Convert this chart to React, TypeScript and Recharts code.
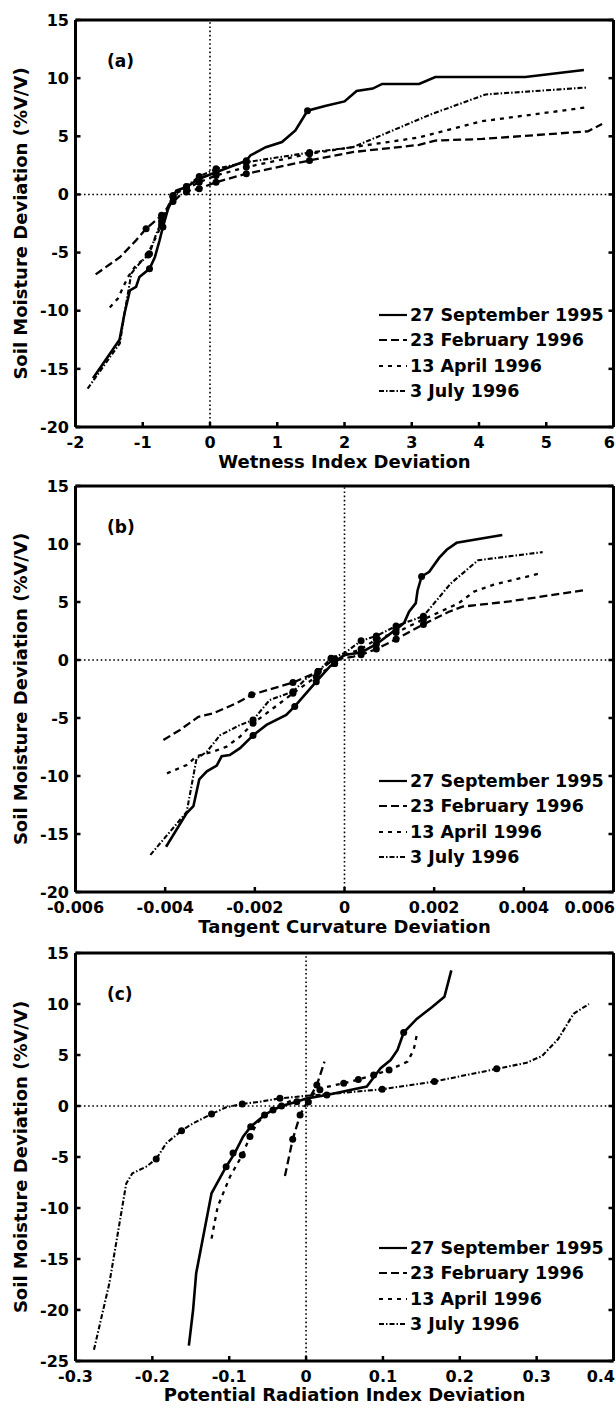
import React from 'react';
import { ScatterChart, Scatter, XAxis, YAxis, ReferenceLine, Legend } from 'recharts';

type Pt = [number, number];

// legend names, in series order
const seriesNames = ['27 September 1995', '23 February 1996', '13 April 1996', '3 July 1996'];

// (a) wetness index deviation
const sepA: Pt[] = [[-1.74, -15.8], [-1.345, -12.5], [-1.27, -10.2], [-1.19, -8.24], [-1.1, -7.95], [-1.05, -7.1], [-0.9, -6.4], [-0.82, -5.4], [-0.75, -3.95], [-0.7, -2.8], [-0.63, -1.37], [-0.55, -0.2], [-0.5, 0.34], [-0.35, 0.63], [-0.16, 1.35], [0.09, 1.9], [0.54, 2.9], [0.6, 3.35], [0.83, 4.06], [1.07, 4.5], [1.27, 5.5], [1.45, 7.2], [1.71, 7.6], [2.0, 8.0], [2.18, 8.9], [2.42, 9.1], [2.56, 9.5], [3.11, 9.5], [3.35, 10.1], [4.69, 10.1], [5.56, 10.7]];
const febA: Pt[] = [[-1.7, -6.87], [-1.34, -5.4], [-1.1, -3.95], [-0.95, -2.95], [-0.75, -1.95], [-0.58, -0.8], [-0.45, -0.1], [-0.3, 0.34], [-0.16, 0.49], [0.09, 1.05], [0.54, 1.78], [1.48, 2.92], [2.12, 3.64], [3.11, 4.26], [3.35, 4.63], [4.05, 4.77], [5.62, 5.43], [5.83, 6.05]];
const aprA: Pt[] = [[-1.49, -9.73], [-1.37, -8.95], [-1.22, -7.1], [-1.1, -6.1], [-0.95, -5.4], [-0.78, -3.4], [-0.63, -1.1], [-0.53, 0.06], [-0.35, 0.49], [-0.16, 1.05], [0.09, 1.63], [0.54, 2.35], [1.48, 3.5], [2.12, 4.06], [3.11, 4.9], [4.05, 6.3], [5.62, 7.5]];
const julA: Pt[] = [[-1.82, -16.7], [-1.34, -12.8], [-1.27, -10.2], [-1.17, -6.8], [-1.05, -5.95], [-0.9, -5.1], [-0.8, -3.4], [-0.68, -1.8], [-0.55, -0.1], [-0.35, 0.69], [-0.16, 1.55], [0.09, 2.2], [0.54, 2.77], [1.48, 3.6], [2.12, 4.06], [2.47, 4.9], [3.29, 6.9], [4.1, 8.6], [5.62, 9.2]];
const sepDotsA: Pt[] = [[-0.9, -6.4], [-0.7, -2.8], [-0.55, -0.2], [-0.35, 0.63], [-0.16, 1.35], [0.09, 1.9], [0.54, 2.9], [1.45, 7.2]];
const febDotsA: Pt[] = [[-0.95, -2.95], [-0.72, -1.8], [-0.55, -0.6], [-0.35, 0.2], [-0.16, 0.49], [0.09, 1.05], [0.54, 1.78], [1.48, 2.92]];
const aprDotsA: Pt[] = [[-0.92, -5.2], [-0.72, -2.6], [-0.55, -0.2], [-0.35, 0.49], [-0.16, 1.05], [0.09, 1.63], [0.54, 2.35], [1.48, 3.5]];
const julDotsA: Pt[] = [[-0.9, -5.1], [-0.72, -2.3], [-0.55, -0.1], [-0.35, 0.69], [-0.16, 1.55], [0.09, 2.2], [0.54, 2.77], [1.48, 3.6]];

// (b) tangent curvature deviation
const sepB: Pt[] = [[-0.00398, -16.1], [-0.00352, -13.2], [-0.00337, -12.6], [-0.00324, -10.3], [-0.00307, -9.6], [-0.00285, -9.1], [-0.00274, -8.3], [-0.00256, -8.2], [-0.00233, -7.6], [-0.00204, -6.5], [-0.00174, -5.6], [-0.0013, -4.74], [-0.00111, -4.0], [-0.00063, -1.87], [-0.00033, -0.57], [-0.00011, 0.15], [0, 0.43], [0.00037, 0.65], [0.00071, 1.36], [0.00115, 2.64], [0.00133, 3.2], [0.00144, 4.16], [0.00159, 4.9], [0.00163, 6.0], [0.00172, 7.2], [0.00189, 7.6], [0.00211, 8.8], [0.00228, 9.5], [0.0025, 10.1], [0.00352, 10.78]];
const febB: Pt[] = [[-0.00404, -6.9], [-0.00367, -6.03], [-0.00326, -4.9], [-0.00293, -4.6], [-0.00241, -3.73], [-0.00207, -3.0], [-0.00159, -2.44], [-0.00115, -1.95], [-0.00085, -1.44], [-0.00059, -1.0], [-0.00026, 0], [0.0002, 0.3], [0.00037, 0.45], [0.00071, 0.94], [0.00115, 1.79], [0.00176, 3.07], [0.00233, 4.16], [0.00263, 4.6], [0.00368, 5.05], [0.00537, 6.03]];
const aprB: Pt[] = [[-0.00396, -9.77], [-0.00352, -9.05], [-0.0033, -8.3], [-0.00293, -7.9], [-0.00263, -7.47], [-0.00233, -6.6], [-0.00204, -5.46], [-0.00159, -4.16], [-0.00115, -2.87], [-0.00063, -1.44], [-0.00026, -0.43], [0, 0.43], [0.00037, 0.94], [0.00071, 1.79], [0.00115, 2.36], [0.00176, 3.5], [0.00255, 4.9], [0.00289, 5.9], [0.00333, 6.5], [0.00437, 7.47]];
const julB: Pt[] = [[-0.00433, -16.8], [-0.00352, -13.1], [-0.0033, -8.5], [-0.00307, -7.9], [-0.00278, -6.5], [-0.00233, -5.6], [-0.00204, -5.17], [-0.00167, -3.45], [-0.00115, -2.73], [-0.00085, -1.58], [-0.00059, -1.0], [-0.0003, 0.15], [0, 0.6], [0.00037, 1.65], [0.00071, 2.07], [0.00115, 2.93], [0.00176, 3.78], [0.00237, 6.6], [0.00298, 8.6], [0.00442, 9.3]];
const sepDotsB: Pt[] = [[-0.00204, -6.5], [-0.00111, -4.0], [-0.00063, -1.87], [-0.00022, -0.3], [0.00037, 0.65], [0.00071, 1.36], [0.00115, 2.64], [0.00172, 7.2]];
const febDotsB: Pt[] = [[-0.00207, -3.0], [-0.00115, -1.95], [-0.00059, -1.0], [-0.00022, 0.1], [0.00037, 0.45], [0.00071, 0.94], [0.00115, 1.79], [0.00176, 3.07]];
const aprDotsB: Pt[] = [[-0.00204, -5.46], [-0.00115, -2.87], [-0.00063, -1.44], [-0.00022, -0.3], [0.00037, 0.94], [0.00071, 1.79], [0.00115, 2.36], [0.00176, 3.5]];
const julDotsB: Pt[] = [[-0.00204, -5.17], [-0.00115, -2.73], [-0.00059, -1.0], [-0.0003, 0.15], [0.00037, 1.65], [0.00071, 2.07], [0.00115, 2.93], [0.00176, 3.78]];

// (c) potential radiation index deviation
const sepC: Pt[] = [[-0.1525, -23.5], [-0.147, -20], [-0.143, -16.4], [-0.123, -8.56], [-0.104, -5.95], [-0.093, -4.64], [-0.082, -3.0], [-0.072, -2.03], [-0.054, -0.88], [-0.043, -0.39], [-0.032, 0], [-0.012, 0.42], [0.001, 0.75], [0.027, 1.08], [0.0575, 1.57], [0.079, 1.9], [0.097, 3.7], [0.11, 4.5], [0.119, 5.5], [0.127, 7.2], [0.144, 8.54], [0.164, 9.7], [0.18, 10.7], [0.189, 13.3]];
const febC: Pt[] = [[-0.0275, -6.86], [-0.0174, -3.27], [-0.0078, -0.88], [0.003, 0.59], [0.014, 2.06], [0.024, 4.35]];
const aprC: Pt[] = [[-0.123, -13.0], [-0.115, -9.87], [-0.099, -6.93], [-0.083, -4.8], [-0.073, -3.0], [-0.064, -1.7], [-0.043, -0.23], [-0.017, 0.59], [0.001, 0.59], [0.018, 1.73], [0.049, 2.23], [0.068, 2.6], [0.088, 3.04], [0.108, 3.53], [0.132, 4.35], [0.14, 5.5], [0.145, 7.3]];
const julC: Pt[] = [[-0.276, -23.9], [-0.256, -17.4], [-0.234, -7.6], [-0.226, -6.6], [-0.208, -5.95], [-0.195, -5.2], [-0.182, -3.66], [-0.162, -2.42], [-0.147, -1.7], [-0.123, -0.78], [-0.104, -0.13], [-0.083, 0.2], [-0.06, 0.42], [-0.034, 0.75], [0.001, 1.0], [0.04, 1.24], [0.099, 1.64], [0.167, 2.4], [0.248, 3.64], [0.287, 4.24], [0.307, 4.9], [0.328, 6.56], [0.348, 9.04], [0.368, 10.0]];
const sepDotsC: Pt[] = [[-0.104, -5.95], [-0.095, -4.6], [-0.072, -2.03], [-0.054, -0.88], [-0.032, 0], [-0.012, 0.42], [0.027, 1.08], [0.127, 7.2]];
const febDotsC: Pt[] = [[-0.0174, -3.27], [-0.0078, -0.88], [0.003, 0.4], [0.014, 2.06]];
const aprDotsC: Pt[] = [[-0.083, -4.8], [-0.073, -3.0], [-0.043, -0.4], [0.018, 1.6], [0.049, 2.23], [0.068, 2.6], [0.088, 3.04], [0.108, 3.53]];
const julDotsC: Pt[] = [[-0.195, -5.2], [-0.162, -2.42], [-0.123, -0.78], [-0.083, 0.2], [-0.034, 0.75], [0.099, 1.64], [0.167, 2.4], [0.248, 3.64]];

// axis ticks
const xTicksA = [-2, -1, 0, 1, 2, 3, 4, 5, 6];
const xTicksB = [-0.006, -0.004, -0.002, 0, 0.002, 0.004, 0.006];
const xTicksC = [-0.3, -0.2, -0.1, 0, 0.1, 0.2, 0.3, 0.4];
const yTicksAB = [-20, -15, -10, -5, 0, 5, 10, 15];
const yTicksC = [-25, -20, -15, -10, -5, 0, 5, 10, 15];

const dashes = [undefined, '8 4', '4 5', '5 2 1.5 2'];
const widths = [2.6, 2.3, 2.3, 2.1];
const FONT = 'DejaVu Sans';
const tickFont = { fill: '#000', fontSize: 16, fontWeight: 'bold', fontFamily: FONT };
const titleFont = { fill: '#000', fontSize: 18, fontWeight: 'bold', fontFamily: FONT };
const frame = { stroke: '#000', strokeWidth: 3 };
const tickMark = { stroke: '#000', strokeWidth: 2.5 };

const toXY = (pts: Pt[]) => pts.map(([x, y]) => ({ x, y }));
const noShape = () => <g />;
const dotShape = (p: any) => <circle cx={p.cx} cy={p.cy} r={3.5} fill="#000" />;

// bottom tick labels; the last one is pulled inside the page like the original
const makeXTick = (lastValue: number) => (props: any) => {
  const { x, y, payload } = props;
  const last = payload.value === lastValue;
  return (
    <text x={last ? 615 : x} y={y} dy="0.71em" textAnchor={last ? 'end' : 'middle'} {...tickFont}>
      {String(payload.value)}
    </text>
  );
};

const LegendBox = () => (
  <div style={{ fontFamily: FONT, fontWeight: 'bold', fontSize: 17.5, color: '#000' }}>
    {seriesNames.map((name, i) => (
      <div key={name} style={{ display: 'flex', alignItems: 'center', height: 25.5, whiteSpace: 'nowrap' }}>
        <svg width={31} height={10} style={{ marginRight: 2 }}>
          <line x1={2} y1={5} x2={30} y2={5} stroke="#000" strokeWidth={2.2} strokeDasharray={dashes[i]} />
        </svg>
        <span>{name}</span>
      </div>
    ))}
  </div>
);

type PanelProps = {
  top: number;
  height: number;
  plotTop: number;
  plotHeight: number;
  tag: string;
  xTitle: string;
  xDomain: [number, number];
  xTicks: number[];
  yDomain: [number, number];
  yTicks: number[];
  lines: Pt[][];
  dots: Pt[][];
  tickGap: number;
  titleGap: number;
};

const Panel = (p: PanelProps) => {
  const xAxisHeight = p.height - p.plotTop - p.plotHeight;
  return (
    <div style={{ position: 'absolute', left: 0, top: p.top }}>
      <ScatterChart width={616} height={p.height} margin={{ top: p.plotTop, right: 2.5, bottom: 0, left: 0 }}>
        <XAxis
          dataKey="x"
          type="number"
          domain={p.xDomain}
          ticks={p.xTicks}
          interval={0}
          height={xAxisHeight}
          axisLine={frame}
          tickLine={tickMark}
          tickSize={-5}
          tickMargin={p.tickGap + 5}
          tick={makeXTick(p.xTicks[p.xTicks.length - 1])}
          allowDataOverflow
          label={{ value: p.xTitle, position: 'insideTop', offset: p.titleGap, style: titleFont }}
        />
        <YAxis
          dataKey="y"
          type="number"
          domain={p.yDomain}
          ticks={p.yTicks}
          interval={0}
          width={75.5}
          axisLine={frame}
          tickLine={tickMark}
          tickSize={-5}
          tickMargin={11.5}
          tick={tickFont}
          allowDataOverflow
          label={{
            value: 'Soil Moisture Deviation (%V/V)',
            angle: -90,
            position: 'insideLeft',
            offset: 21,
            style: { ...titleFont, textAnchor: 'middle' },
          }}
        />
        <XAxis
          xAxisId="top"
          orientation="top"
          mirror
          type="number"
          domain={p.xDomain}
          ticks={p.xTicks}
          interval={0}
          axisLine={frame}
          tickLine={tickMark}
          tickSize={5}
          tickFormatter={() => ''}
          allowDataOverflow
        />
        <YAxis
          yAxisId="right"
          orientation="right"
          mirror
          type="number"
          domain={p.yDomain}
          ticks={p.yTicks}
          interval={0}
          axisLine={frame}
          tickLine={tickMark}
          tickSize={5}
          tickFormatter={() => ''}
          allowDataOverflow
        />
        <ReferenceLine x={0} stroke="#000" strokeWidth={1.6} strokeDasharray="1.6 2.6" />
        <ReferenceLine y={0} stroke="#000" strokeWidth={1.6} strokeDasharray="1.6 2.6" />
        {p.lines.map((pts, i) => (
          <Scatter
            key={'l' + i}
            name={seriesNames[i]}
            data={toXY(pts)}
            fill="#000"
            line={{ stroke: '#000', strokeWidth: widths[i], strokeDasharray: dashes[i] }}
            shape={noShape}
            legendType="none"
            isAnimationActive={false}
          />
        ))}
        {p.dots.map((pts, i) => (
          <Scatter
            key={'d' + i}
            data={toXY(pts)}
            fill="#000"
            shape={dotShape}
            legendType="none"
            isAnimationActive={false}
          />
        ))}
        <Legend
          layout="vertical"
          align="center"
          verticalAlign="middle"
          content={() => <LegendBox />}
          wrapperStyle={{ left: 377, top: p.plotTop + 282, width: 239 }}
        />
      </ScatterChart>
      <div
        style={{
          position: 'absolute',
          left: 107,
          top: p.plotTop + 31,
          fontFamily: FONT,
          fontWeight: 'bold',
          fontSize: 17,
          lineHeight: '20px',
        }}
      >
        {p.tag}
      </div>
    </div>
  );
};

export default function App() {
  return (
    <div style={{ position: 'absolute', left: 0, top: 0, width: 616, height: 1408, background: '#fff' }}>
      <Panel
        top={0}
        height={474}
        plotTop={20}
        plotHeight={407}
        tag="(a)"
        xTitle="Wetness Index Deviation"
        xDomain={[-2, 6]}
        xTicks={xTicksA}
        yDomain={[-20, 15]}
        yTicks={yTicksAB}
        lines={[sepA, febA, aprA, julA]}
        dots={[sepDotsA, febDotsA, aprDotsA, julDotsA]}
        tickGap={10}
        titleGap={28}
      />
      <Panel
        top={474}
        height={467}
        plotTop={12}
        plotHeight={406}
        tag="(b)"
        xTitle="Tangent Curvature Deviation"
        xDomain={[-0.006, 0.006]}
        xTicks={xTicksB}
        yDomain={[-20, 15]}
        yTicks={yTicksAB}
        lines={[sepB, febB, aprB, julB]}
        dots={[sepDotsB, febDotsB, aprDotsB, julDotsB]}
        tickGap={10}
        titleGap={28}
      />
      <Panel
        top={941}
        height={467}
        plotTop={12}
        plotHeight={408}
        tag="(c)"
        xTitle="Potential Radiation Index Deviation"
        xDomain={[-0.3, 0.4]}
        xTicks={xTicksC}
        yDomain={[-25, 15]}
        yTicks={yTicksC}
        lines={[sepC, febC, aprC, julC]}
        dots={[sepDotsC, febDotsC, aprDotsC, julDotsC]}
        tickGap={10}
        titleGap={27}
      />
    </div>
  );
}
